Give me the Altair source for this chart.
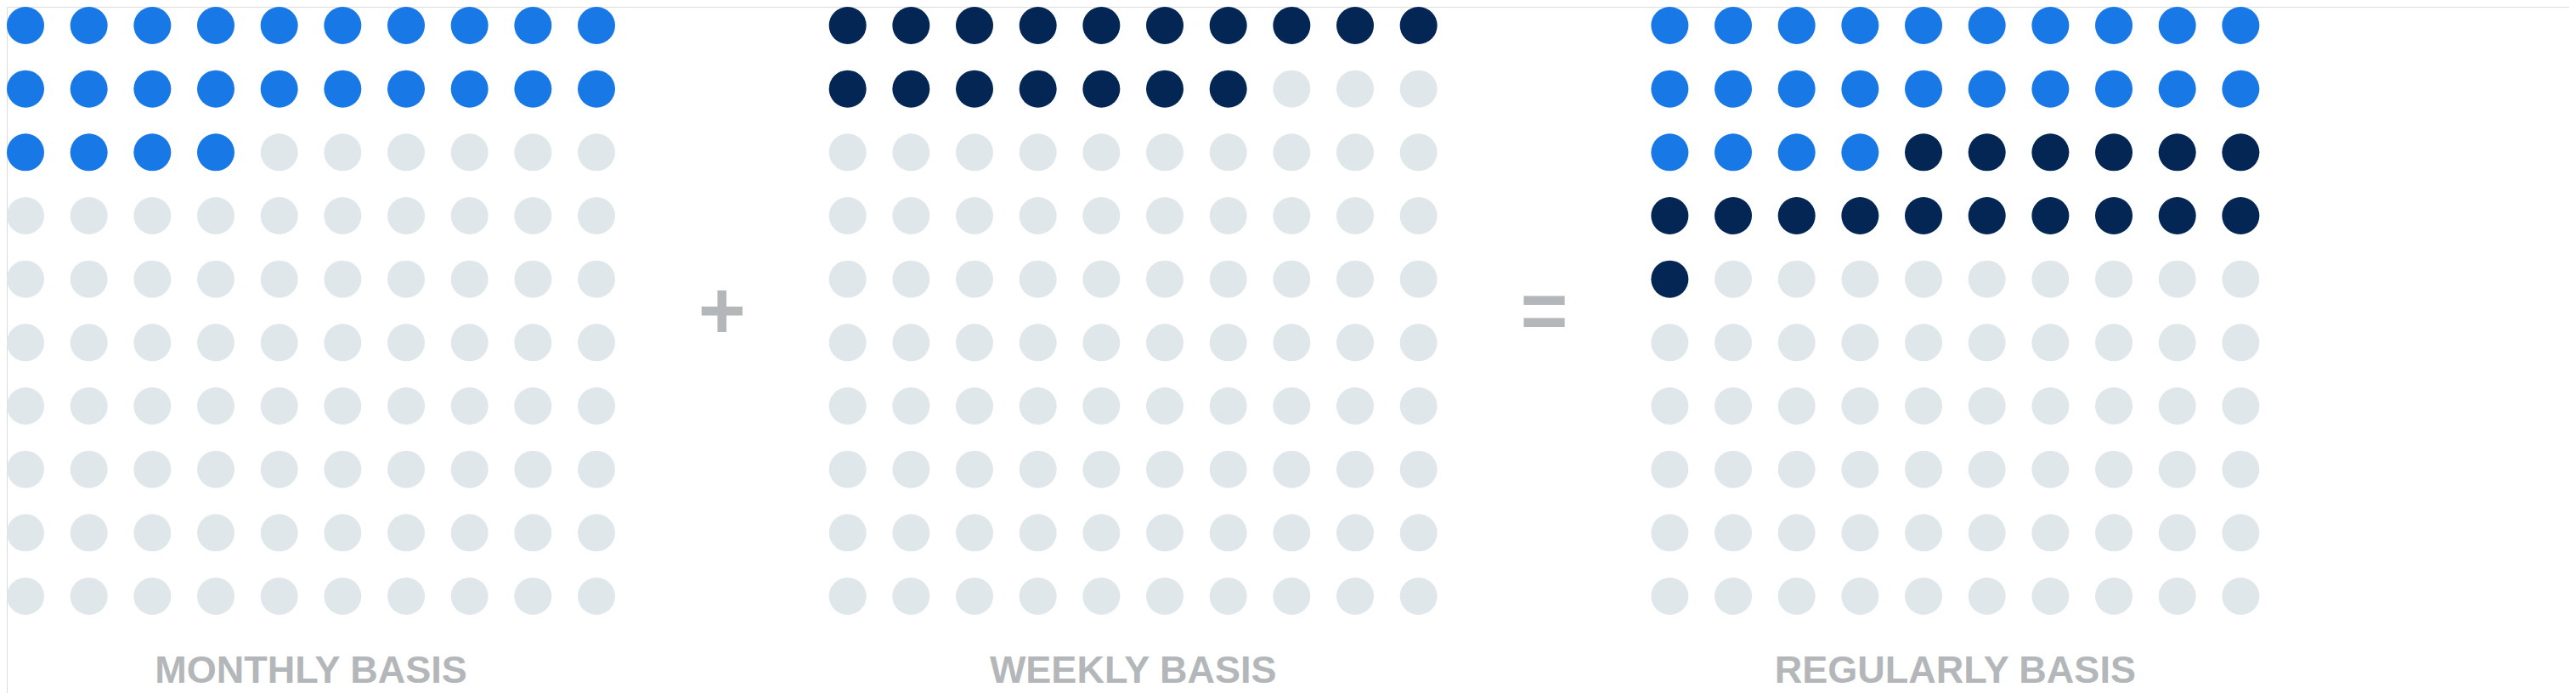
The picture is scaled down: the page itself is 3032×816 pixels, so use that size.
import altair as alt
import pandas as pd

# ---- data ----
PANEL_LABELS = ["MONTHLY BASIS", "WEEKLY BASIS", "REGULARLY BASIS"]
MONTHLY_DOTS = [24, 0, 24]    # blue dots per panel
WEEKLY_DOTS = [0, 17, 17]     # navy dots per panel
OPERATORS = ["+", "="]
GRID_COLS = 10
GRID_ROWS = 10

# ---- layout constants (grid units) ----
PANEL_STEP = 12.96
STEP_PX = 672 / 9
W, H = 3016, 808
LABEL_ROW = (796 - 22) / STEP_PX

dots = []
for p, label in enumerate(PANEL_LABELS):
    for i in range(GRID_COLS * GRID_ROWS):
        if i < MONTHLY_DOTS[p]:
            kind = "monthly"
        elif i < MONTHLY_DOTS[p] + WEEKLY_DOTS[p]:
            kind = "weekly"
        else:
            kind = "empty"
        dots.append({"panel": label, "col": p * PANEL_STEP + i % GRID_COLS,
                     "row": i // GRID_COLS, "kind": kind})
dots_df = pd.DataFrame(dots)

labels_df = pd.DataFrame({
    "label": PANEL_LABELS,
    "col": [p * PANEL_STEP + (GRID_COLS - 1) / 2 for p in range(len(PANEL_LABELS))],
    "row": [LABEL_ROW] * len(PANEL_LABELS),
})

ops_df = pd.DataFrame({
    "op": OPERATORS,
    "col": [(GRID_COLS - 1 + PANEL_STEP) / 2 + k * PANEL_STEP for k in range(len(OPERATORS))],
    "row": [(GRID_ROWS - 1) / 2] * len(OPERATORS),
})

x_scale = alt.Scale(domain=[-22 / STEP_PX, (W - 22) / STEP_PX], nice=False, zero=False)
y_scale = alt.Scale(domain=[-22 / STEP_PX, (H - 22) / STEP_PX], nice=False, zero=False, reverse=True)
X = lambda: alt.X("col:Q", scale=x_scale, axis=None)
Y = lambda: alt.Y("row:Q", scale=y_scale, axis=None)

points = alt.Chart(dots_df).mark_point(
    shape="circle", filled=True, size=44 * 44, opacity=1, strokeWidth=0
).encode(
    x=X(), y=Y(),
    color=alt.Color("kind:N", legend=None,
                    scale=alt.Scale(domain=["monthly", "weekly", "empty"],
                                    range=["#1878E6", "#032654", "#E0E7EB"])),
)

labels = alt.Chart(labels_df).mark_text(
    font="Liberation Sans", fontWeight="bold", fontSize=45, color="#B4B7BA",
    align="center", baseline="alphabetic"
).encode(x=X(), y=Y(), text="label:N")

ops = alt.Chart(ops_df).mark_text(
    font="Liberation Sans", fontWeight="bold", fontSize=96, color="#B4B7BA",
    align="center", baseline="middle", dy=4
).encode(x=X(), y=Y(), text="op:N")

chart = alt.layer(points, labels, ops).properties(
    width=W, height=H, padding=0, autosize=alt.AutoSizeParams(type="none")
).configure_view(stroke=None).configure(background="white")

chart.save("out.html", embed_options={"renderer": "svg", "actions": False})
